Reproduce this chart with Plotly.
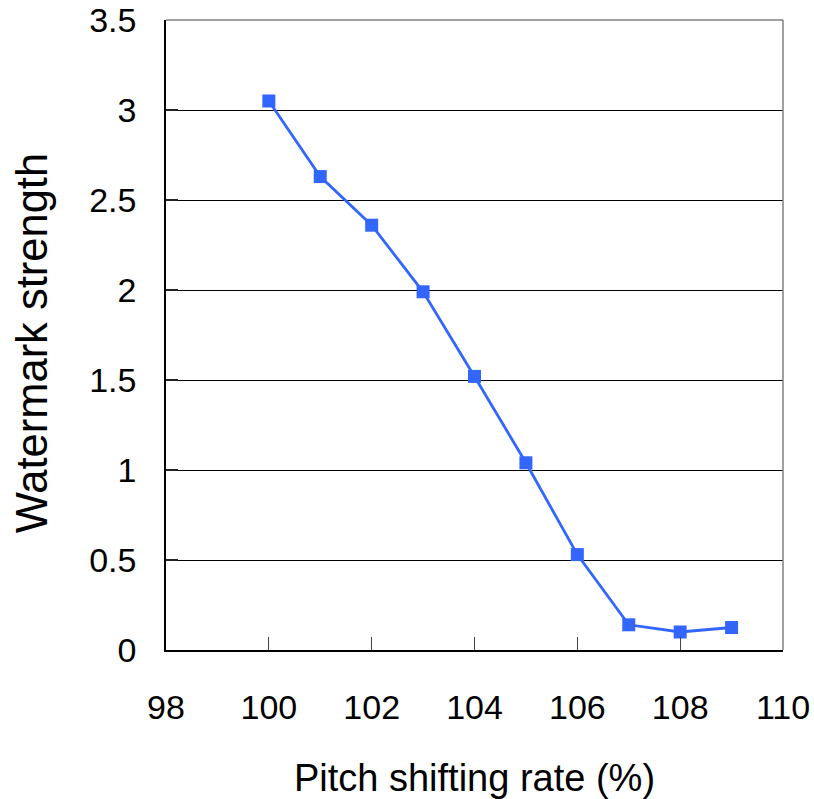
import plotly.graph_objects as go

pitch_rate = [100, 101, 102, 103, 104, 105, 106, 107, 108, 109]
strength = [3.05, 2.63, 2.36, 1.99, 1.52, 1.04, 0.53, 0.14, 0.10, 0.125]

x_ticks = [98, 100, 102, 104, 106, 108, 110]
y_ticks = [0, 0.5, 1, 1.5, 2, 2.5, 3, 3.5]
y_tick_text = ["0", "0.5", "1", "1.5", "2", "2.5", "3", "3.5"]

fig = go.Figure()
fig.add_trace(go.Scatter(
    x=pitch_rate, y=strength, mode="lines+markers",
    line=dict(color="#3366FF", width=2.8),
    marker=dict(symbol="square", size=13, color="#3366FF"),
    showlegend=False,
))

fam = "Liberation Sans, Arial, sans-serif"
tick_font = dict(family=fam, color="black", size=34)

fig.update_layout(
    width=814, height=799,
    margin=dict(l=166, r=31, t=20, b=149),
    paper_bgcolor="white", plot_bgcolor="white",
    font=dict(family=fam, color="black", size=30),
    xaxis=dict(
        range=[98, 110], tickvals=x_ticks, ticktext=[str(v) for v in x_ticks],
        showgrid=False, zeroline=False, automargin=False,
        ticklabeloverflow="allow",
        showline=True, linecolor="black", linewidth=1.5,
        ticks="inside", ticklen=13, tickcolor="#444", tickwidth=1,
        ticklabelstandoff=26, tickfont=tick_font,
        title=dict(text="Pitch shifting rate (%)",
                   font=dict(family=fam, size=38, color="black"), standoff=40),
        fixedrange=True,
    ),
    yaxis=dict(
        range=[0, 3.5], tickvals=y_ticks, ticktext=y_tick_text,
        showgrid=True, gridcolor="black", gridwidth=1,
        zeroline=False, automargin=False,
        ticklabeloverflow="allow",
        showline=True, linecolor="black", linewidth=1.5,
        ticks="inside", ticklen=12, tickcolor="#222", tickwidth=2,
        ticklabelstandoff=21, tickfont=tick_font,
        fixedrange=True,
    ),
    annotations=[
        dict(text="Watermark strength", textangle=-90, showarrow=False,
             xref="paper", yref="paper", x=0, y=0.487,
             xanchor="center", yanchor="middle", xshift=-134,
             font=dict(family=fam, size=43.5, color="black")),
    ],
    shapes=[
        dict(type="line", xref="paper", yref="paper", x0=0, x1=1, y0=1, y1=1,
             line=dict(color="#808080", width=1.5)),
        dict(type="line", xref="paper", yref="paper", x0=1, x1=1, y0=0, y1=1,
             line=dict(color="#808080", width=1.5)),
    ],
)

fig.write_html("out.html", config={"displayModeBar": False},
               post_script="document.body.style.margin='0';")
